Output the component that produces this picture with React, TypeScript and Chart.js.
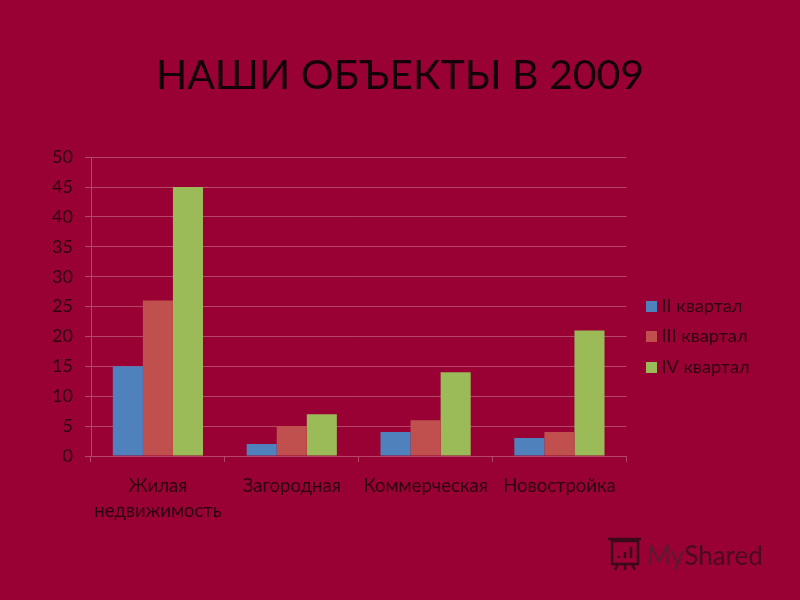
import React, { useEffect, useRef } from "react";
import { Chart, registerables } from "chart.js";

Chart.register(...registerables);

const titleText = "НАШИ ОБЪЕКТЫ В 2009";
const categories = [["Жилая", "недвижимость"], "Загородная", "Коммерческая", "Новостройка"];
const seriesNames = ["II квартал", "III квартал", "IV квартал"];
const q2 = [15, 2, 4, 3];
const q3 = [26, 5, 6, 4];
const q4 = [45, 7, 14, 21];
const seriesColors = ["#4f81bd", "#c0504d", "#9bbb59"];
const yMax = 50;
const yStep = 5;
const watermark = ["My", "Shared"];

const FONT = "Lato, Carlito, 'Noto Sans', sans-serif";
const BG = "#990033";
const TEXT = "#2c0012";
const GRID = "#b5466a";

function swatch(color: string) {
  const c = document.createElement("canvas");
  c.width = 11;
  c.height = 11;
  const g = c.getContext("2d")!;
  g.fillStyle = color;
  g.fillRect(0, 0, 11, 11);
  return c;
}

const placement = {
  id: "placement",
  afterLayout(chart: any) {
    const t = chart.titleBlock;
    if (t) { t.left = 0; t.right = 800; }
    const l = chart.legend;
    if (l) {
      const w = l.width;
      l.left = 639; l.right = 639 + w;
      const h = l.columnSizes?.[0]?.height ?? 90;
      l.top = 336.5 - h / 2 - 12.3; l.bottom = l.top + h + 24.6;
    }
  },
};

const mark = {
  id: "mark",
  afterDraw(chart: any) {
    const c = chart.ctx;
    c.save();
    c.textBaseline = "alphabetic";
    c.textAlign = "left";
    c.font = `26px ${FONT}`;
    c.fillStyle = "#5a1a33";
    c.fillText(watermark[0], 647, 565);
    const w = c.measureText(watermark[0]).width;
    c.fillStyle = "#4a0a22";
    c.fillText(watermark[1], 647 + w, 565);
    c.strokeStyle = "#3a0a1c";
    c.lineWidth = 2.5;
    c.strokeRect(612, 541, 26, 23);
    c.beginPath();
    c.moveTo(608, 539); c.lineTo(641, 539);
    c.moveTo(618, 564); c.lineTo(615, 570);
    c.moveTo(625, 564); c.lineTo(625, 570);
    c.moveTo(632, 564); c.lineTo(635, 570);
    c.moveTo(619, 558); c.lineTo(619, 556);
    c.moveTo(625, 558); c.lineTo(625, 552);
    c.moveTo(631, 558); c.lineTo(631, 547);
    c.stroke();
    c.restore();
  },
};

export default function App() {
  const ref = useRef<HTMLCanvasElement>(null);
  useEffect(() => {
    document.body.style.margin = "0";
    document.body.style.background = BG;
    const chart = new Chart(ref.current!, {
      type: "bar",
      data: {
        labels: categories as any,
        datasets: [q2, q3, q4].map((d, i) => ({
          label: seriesNames[i],
          data: d,
          backgroundColor: seriesColors[i],
          borderWidth: 0,
          categoryPercentage: 0.674,
          barPercentage: 1,
        })),
      },
      options: {
        responsive: false,
        animation: false,
        layout: { padding: { left: 0, right: 53, top: 0, bottom: 0 } },
        plugins: {
          tooltip: { enabled: false },
          title: {
            display: true,
            text: titleText,
            color: "#14000a",
            font: { family: FONT, size: 41, weight: "normal" },
            padding: { top: 51, bottom: 57 },
          },
          legend: {
            position: "right",
            labels: {
              usePointStyle: true,
              pointStyleWidth: 1,
              boxHeight: 11,
              padding: 12.3,
              color: TEXT,
              font: { family: FONT, size: 18.2 },
              generateLabels: (c: any) =>
                c.data.datasets.map((d: any, i: number) => ({
                  text: d.label,
                  fontColor: TEXT,
                  fillStyle: seriesColors[i],
                  strokeStyle: seriesColors[i],
                  lineWidth: 0,
                  pointStyle: swatch(seriesColors[i]),
                  datasetIndex: i,
                })),
            },
          },
        },
        scales: {
          x: {
            grid: { offset: true, drawOnChartArea: false, drawTicks: true, tickLength: 6, color: GRID },
            border: { color: GRID },
            afterFit(s: any) { s.height = 144; },
            ticks: {
              color: TEXT,
              maxRotation: 0,
              autoSkip: false,
              padding: 12,
              font: { family: FONT, size: 18.5, lineHeight: 1.35 },
            },
          },
          y: {
            min: 0,
            max: yMax,
            afterFit(s: any) { s.width = 91; },
            grid: { color: GRID, tickLength: 6 },
            border: { color: GRID },
            ticks: {
              stepSize: yStep,
              color: TEXT,
              padding: 12,
              font: { family: FONT, size: 18 },
            },
          },
        },
      },
      plugins: [placement, mark],
    } as any);
    return () => chart.destroy();
  }, []);
  return (
    <div style={{ width: 800, height: 600, background: BG }}>
      <canvas ref={ref} width={800} height={600} style={{ display: "block", filter: "blur(0.5px)" }} />
    </div>
  );
}
